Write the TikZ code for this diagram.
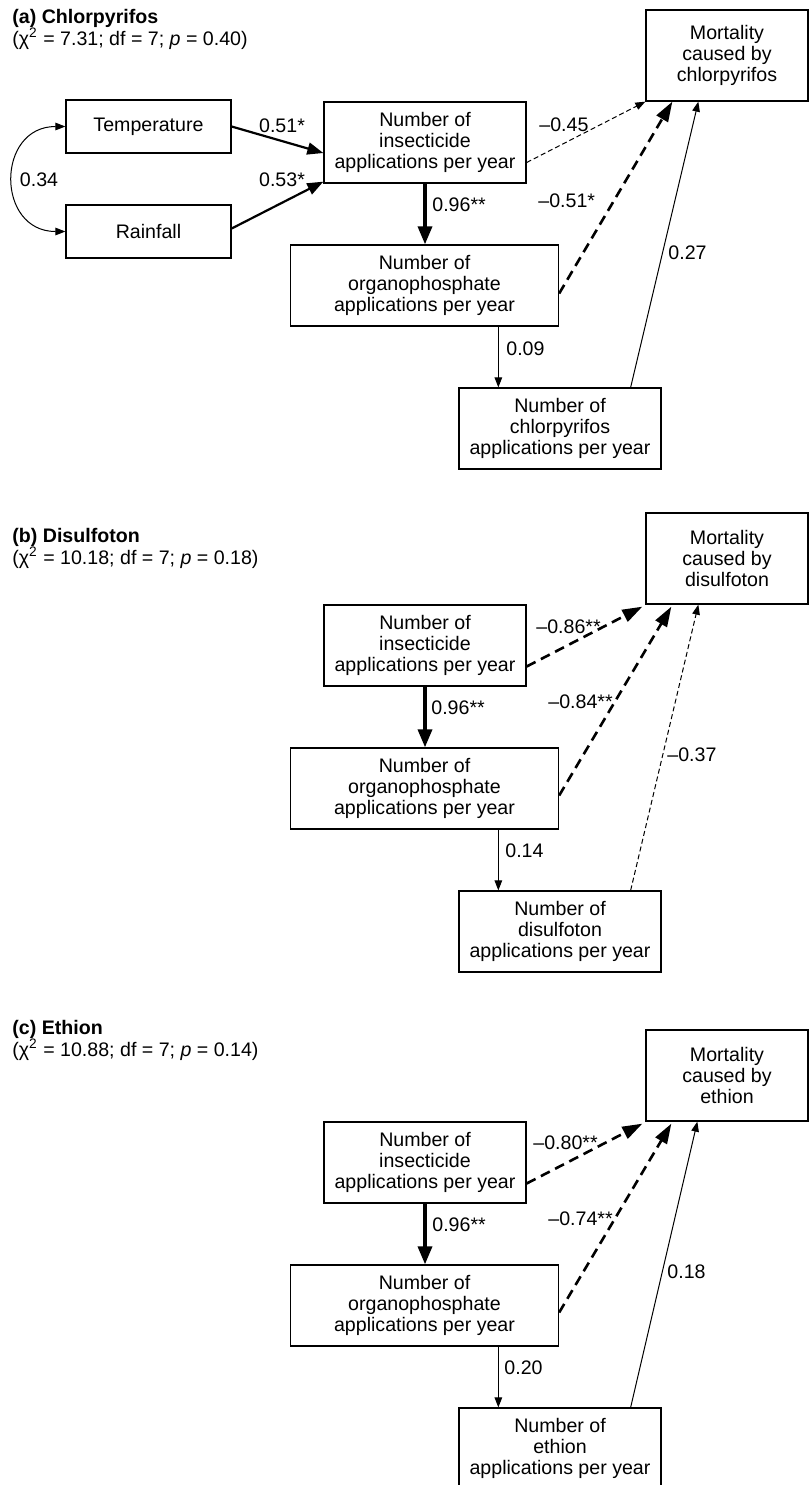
\documentclass[tikz,border=0pt]{standalone}
\usepackage{fontspec}
\setmainfont{Liberation Sans}
\usetikzlibrary{arrows.meta,calc}
\newcommand{\figfont}{\fontsize{9.8}{10.5}\selectfont}

\begin{document}
\begin{tikzpicture}[x=0.5pt, y=-0.5pt,
    box/.style={draw, line width=0.65pt, align=center, font=\figfont, inner sep=0pt},
    smallbox/.style={box, minimum width=82.5pt, minimum height=26.5pt},
    midbox/.style={box, minimum width=101pt, minimum height=40.5pt},
    widebox/.style={box, minimum width=134pt, minimum height=40.5pt},
    mortbox/.style={box, minimum width=81pt, minimum height=45.5pt},
    lbl/.style={font=\figfont, inner sep=0pt},
    arrowthin/.style={->, >={Triangle[length=5pt,width=3.8pt]}, line width=0.5pt},
    arrowmed/.style={->, >={Triangle[length=8pt,width=6pt]}, line width=1.1pt},
    arrowbold/.style={->, >={Triangle[length=9pt,width=7pt]}, line width=1.7pt},
    dashthin/.style={arrowthin, dash pattern=on 2.5pt off 1.5pt},
    dashbold/.style={->, >={Triangle[length=10pt,width=6.5pt]}, line width=1.3pt, dash pattern=on 5pt off 3pt}]
    \useasboundingbox (0,0) rectangle (809,1485);

    % panel titles
    \node[lbl, anchor=base west] (ttlA) at (12,23) {\textbf{(a) Chlorpyrifos}};
    \node[lbl, anchor=base west] (statA) at (12,45) {(χ\textsuperscript{2} = 7.31; df = 7; \textit{p} = 0.40)};
    \node[lbl, anchor=base west] (ttlB) at (12,542) {\textbf{(b) Disulfoton}};
    \node[lbl, anchor=base west] (statB) at (12,564) {(χ\textsuperscript{2} = 10.18; df = 7; \textit{p} = 0.18)};
    \node[lbl, anchor=base west] (ttlC) at (12,1034) {\textbf{(c) Ethion}};
    \node[lbl, anchor=base west] (statC) at (12,1056) {(χ\textsuperscript{2} = 10.88; df = 7; \textit{p} = 0.14)};

    % (a) chlorpyrifos
    \node[smallbox] (temp) at (148.5,126.5) {Temperature};
    \node[smallbox] (rain) at (148.5,231.5) {Rainfall};
    \node[midbox] (insA) at (425,142.5) {Number of\\insecticide\\applications per year};
    \node[widebox] (opA) at (424.5,285.5) {Number of\\organophosphate\\applications per year};
    \node[midbox] (chlA) at (560,428.5) {Number of\\chlorpyrifos\\applications per year};
    \node[mortbox] (mortA) at (727,55.5) {Mortality\\caused by\\chlorpyrifos};
    \coordinate (dropA) at ($(chlA.north west)+(40,0)$);

    \draw[arrowthin, <->] (temp.west) to[out=180, in=180, looseness=1.7] (rain.west);
    \draw[arrowmed] (temp.east) -- ($(insA.west)+(0,10.5)$);
    \draw[arrowmed] ($(rain.east)+(0,-3)$) -- ($(insA.south west)+(0,-2)$);
    \draw[arrowbold] (insA.south) -- (insA.south |- opA.north);
    \draw[dashthin] ($(insA.east)+(0,20)$) -- (mortA.south west);
    \draw[dashbold] ($(opA.east)+(0,8)$) -- ($(mortA.south west)+(27,0)$);
    \draw[arrowthin] (dropA |- opA.south) -- (dropA);
    \draw[arrowthin] ($(chlA.north east)+(-31,0)$) -- ($(mortA.south west)+(53,0)$);

    \node[lbl] (l34) at (39,180) {0.34};
    \node[lbl] (l51) at (282,126) {0.51*};
    \node[lbl] (l53) at (282,180) {0.53*};
    \node[lbl, anchor=west] (l96a) at (432,205) {0.96**};
    \node[lbl, anchor=west] (l45) at (539,125) {–0.45};
    \node[lbl, anchor=west] (l51b) at (538,201) {–0.51*};
    \node[lbl, anchor=west] (l27) at (668,253) {0.27};
    \node[lbl, anchor=west] (l09) at (506,349) {0.09};

    % (b) disulfoton
    \begin{scope}[shift={(0,503)}]
    \node[midbox] (insB) at (425,142.5) {Number of\\insecticide\\applications per year};
    \node[widebox] (opB) at (424.5,285.5) {Number of\\organophosphate\\applications per year};
    \node[midbox] (disB) at (560,428.5) {Number of\\disulfoton\\applications per year};
    \node[mortbox] (mortB) at (727,55.5) {Mortality\\caused by\\disulfoton};
    \coordinate (dropB) at ($(disB.north west)+(40,0)$);

    \draw[arrowbold] (insB.south) -- (insB.south |- opB.north);
    \draw[dashbold] ($(insB.east)+(0,21)$) -- ($(mortB.south west)+(-3,2)$);
    \draw[dashbold] ($(opB.east)+(0,7)$) -- ($(mortB.south west)+(26,2)$);
    \draw[arrowthin] (dropB |- opB.south) -- (dropB);
    \draw[dashthin] ($(disB.north east)+(-31,0)$) -- ($(mortB.south west)+(53,0)$);

    \node[lbl, anchor=west] (l96b) at (431,205) {0.96**};
    \node[lbl, anchor=west] (l86) at (536,124) {–0.86**};
    \node[lbl, anchor=west] (l84) at (548,199) {–0.84**};
    \node[lbl, anchor=west] (l37) at (667,252) {–0.37};
    \node[lbl, anchor=west] (l14) at (505,348) {0.14};
    \end{scope}

    % (c) ethion
    \begin{scope}[shift={(0,1020)}]
    \node[midbox] (insC) at (425,142.5) {Number of\\insecticide\\applications per year};
    \node[widebox] (opC) at (424.5,285.5) {Number of\\organophosphate\\applications per year};
    \node[midbox] (ethC) at (560,428.5) {Number of\\ethion\\applications per year};
    \node[mortbox] (mortC) at (727,55.5) {Mortality\\caused by\\ethion};
    \coordinate (dropC) at ($(ethC.north west)+(40,0)$);

    \draw[arrowbold] (insC.south) -- (insC.south |- opC.north);
    \draw[dashbold] ($(insC.east)+(0,21)$) -- ($(mortC.south west)+(-3,2)$);
    \draw[dashbold] ($(opC.east)+(0,7)$) -- ($(mortC.south west)+(26,2)$);
    \draw[arrowthin] (dropC |- opC.south) -- (dropC);
    \draw[arrowthin] ($(ethC.north east)+(-31,0)$) -- ($(mortC.south west)+(52,0)$);

    \node[lbl, anchor=west] (l96c) at (432,205) {0.96**};
    \node[lbl, anchor=west] (l80) at (533,123) {–0.80**};
    \node[lbl, anchor=west] (l74) at (548,199) {–0.74**};
    \node[lbl, anchor=west] (l18) at (667,252) {0.18};
    \node[lbl, anchor=west] (l20) at (504,348) {0.20};
    \end{scope}
\end{tikzpicture}
\end{document}
